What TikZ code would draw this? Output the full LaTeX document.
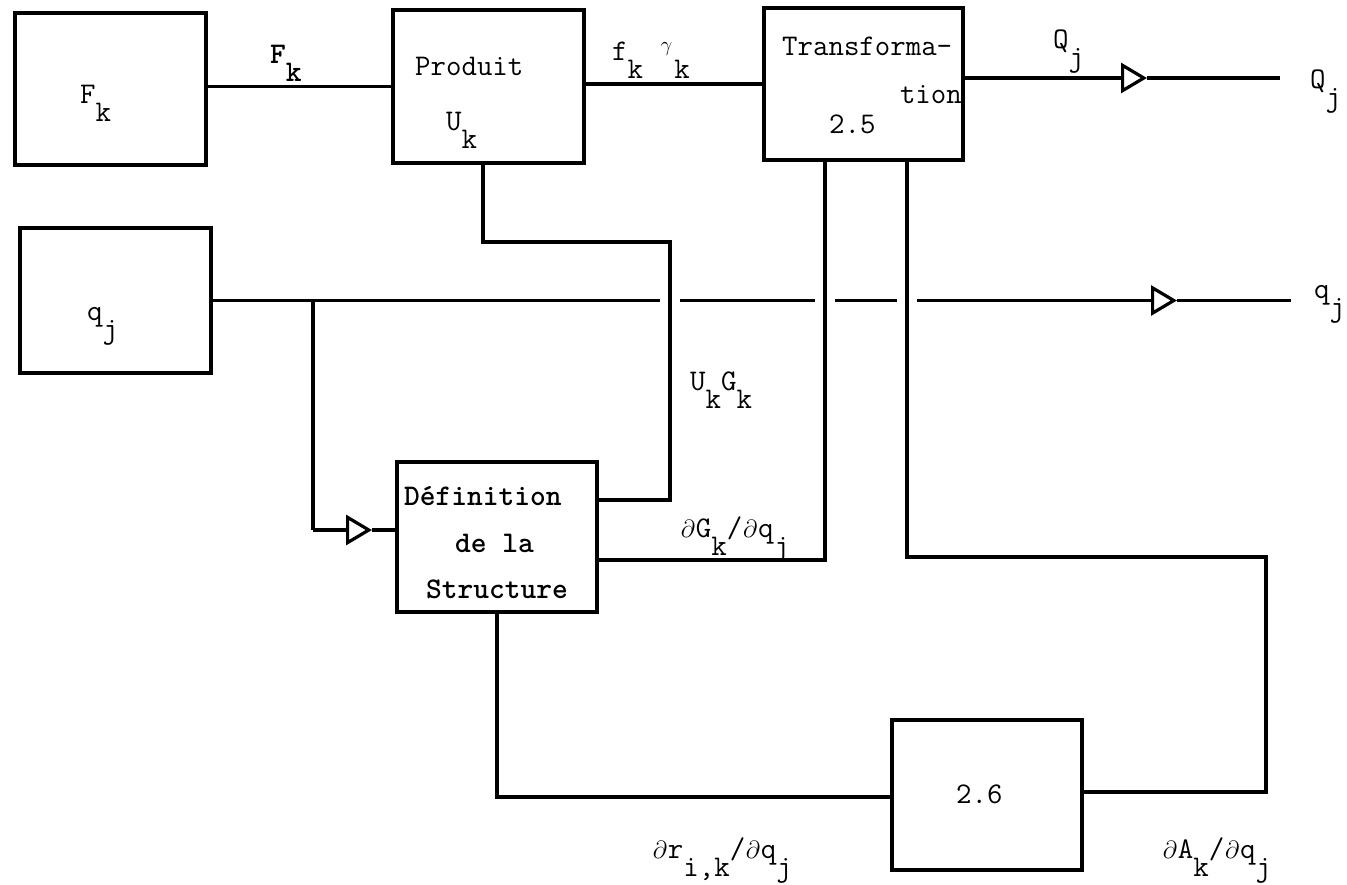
\documentclass[tikz,border=0pt]{standalone}
\usetikzlibrary{arrows.meta}
\newcommand\fsz{\fontsize{30}{35}\selectfont}
\newcommand\lowr[1]{\raisebox{-18pt}{#1}}
\newcommand\pd{\makebox[0.525em]{$\partial$}}
\newcommand\gam{\makebox[0.525em]{\raisebox{0.3em}{$\scriptstyle\gamma$}}}
\tikzset{
  blk/.style={draw, line width=3.8pt, inner sep=0pt},
  txt/.style={anchor=base west, inner sep=0pt, font=\fsz\ttfamily},
  txtr/.style={anchor=base east, inner sep=0pt, font=\fsz\ttfamily},
  wire/.style={line width=3.2pt, line join=miter},
  tip/.style={-{Triangle[open, length=26pt, width=30pt, line width=3.2pt]}},
}
\begin{document}
\begin{tikzpicture}[x=1pt, y=-1pt]
\useasboundingbox (0,0) rectangle (1347,884);
% boxes
\node[blk, minimum width=191pt, minimum height=152pt] (Fk) at (110.5,89) {};
\node[blk, minimum width=191pt, minimum height=153pt] (Prod) at (488.5,86.5) {};
\node[blk, minimum width=199pt, minimum height=152pt] (Tr) at (863.5,84) {};
\node[blk, minimum width=191pt, minimum height=145pt] (qj) at (115.5,300.5) {};
\node[blk, minimum width=200pt, minimum height=150pt] (Def) at (497,537) {};
\node[blk, minimum width=190pt, minimum height=150pt] (b26) at (987,795) {};
% box texts
\node[txt] (tFk) at (80,103) {F\lowr{k}};
\node[txt] (tProd) at (415,75) {Produit};
\node[txt] (tUk) at (446,130) {U\lowr{k}};
\node[txt] (tTr) at (782,55) {Transforma-};
\node[txtr] (tTion) at (962,103) {tion};
\node[txt] (t25) at (829,133) {2.5};
\node[txt] (tqj) at (87,320) {q\lowr{j}};
\node[txt, font=\fsz\ttfamily\bfseries] (tDef1) at (404,505) {Définition};
\node[txt, font=\fsz\ttfamily\bfseries] (tDef2) at (455,552) {de la};
\node[txt, font=\fsz\ttfamily\bfseries] (tDef3) at (426,598) {Structure};
\node[txt] (t26) at (956,803) {2.6};
% coordinates
\coordinate (Qtip) at (1147,78);
\coordinate (Qend) at (1280,78);
\coordinate (p1) at (483,242);
\coordinate (p2) at (670,242);
\coordinate (p3) at (670,500);
\coordinate (g1) at (825,560);
\coordinate (a1) at (907,557);
\coordinate (a2) at (1266,557);
\coordinate (a3) at (1266,792);
\coordinate (r1) at (497,797);
\coordinate (x1) at (660,300.5);
\coordinate (x2) at (680,300.5);
\coordinate (x3) at (815,300.5);
\coordinate (x4) at (835,300.5);
\coordinate (x5) at (897,300.5);
\coordinate (x6) at (917,300.5);
\coordinate (qtip) at (1177,300.5);
\coordinate (qend) at (1291,300.5);
\coordinate (br) at (313,300.5);
\coordinate (bd) at (313,530);
\coordinate (btip) at (372,530);
% connectors
\draw[wire] (Fk.east |- Prod.west) -- (Prod.west);
\draw[wire] (Prod.east |- Tr.west) -- (Tr.west);
\draw[wire, tip] (Tr.east |- Qend) -- (Qtip);
\draw[wire] (Qtip) -- (Qend);
\draw[wire] (qj.east) -- (x1) (x2) -- (x3) (x4) -- (x5);
\draw[wire, tip] (x6) -- (qtip);
\draw[wire] (qtip) -- (qend);
\draw[wire] (br) -- (bd);
\draw[wire, tip] (bd) -- (btip);
\draw[wire] (btip) -- (Def.west |- btip);
\draw[wire] (p1 |- Prod.south) -- (p1) -- (p2) -- (p3) -- (Def.east |- p3);
\draw[wire] (Def.east |- g1) -- (g1) -- (g1 |- Tr.south);
\draw[wire] (a1 |- Tr.south) -- (a1) -- (a2) -- (a3) -- (b26.east |- a3);
\draw[wire] (r1 |- Def.south) -- (r1) -- (b26.west |- r1);
% labels
\node[txt, font=\fsz\ttfamily\bfseries] (lFk) at (270,63) {F\lowr{k}};
\node[txt] (lfg) at (612,60) {f\lowr{k} \gam\lowr{k}};
\node[txt] (lQ1) at (1053,48) {Q\lowr{j}};
\node[txt] (lQ2) at (1310,88) {Q\lowr{j}};
\node[txt] (lq2) at (1314,298) {q\lowr{j}};
\node[txt] (lUG) at (690,390) {U\lowr{k}G\lowr{k}};
\node[txt] (ldG) at (680,537) {\pd G\lowr{k}/\pd q\lowr{j}};
\node[txt] (ldr) at (652,858) {\pd r\lowr{i,k}/\pd q\lowr{j}};
\node[txt] (ldA) at (1162,858) {\pd A\lowr{k}/\pd q\lowr{j}};
\end{tikzpicture}
\end{document}
